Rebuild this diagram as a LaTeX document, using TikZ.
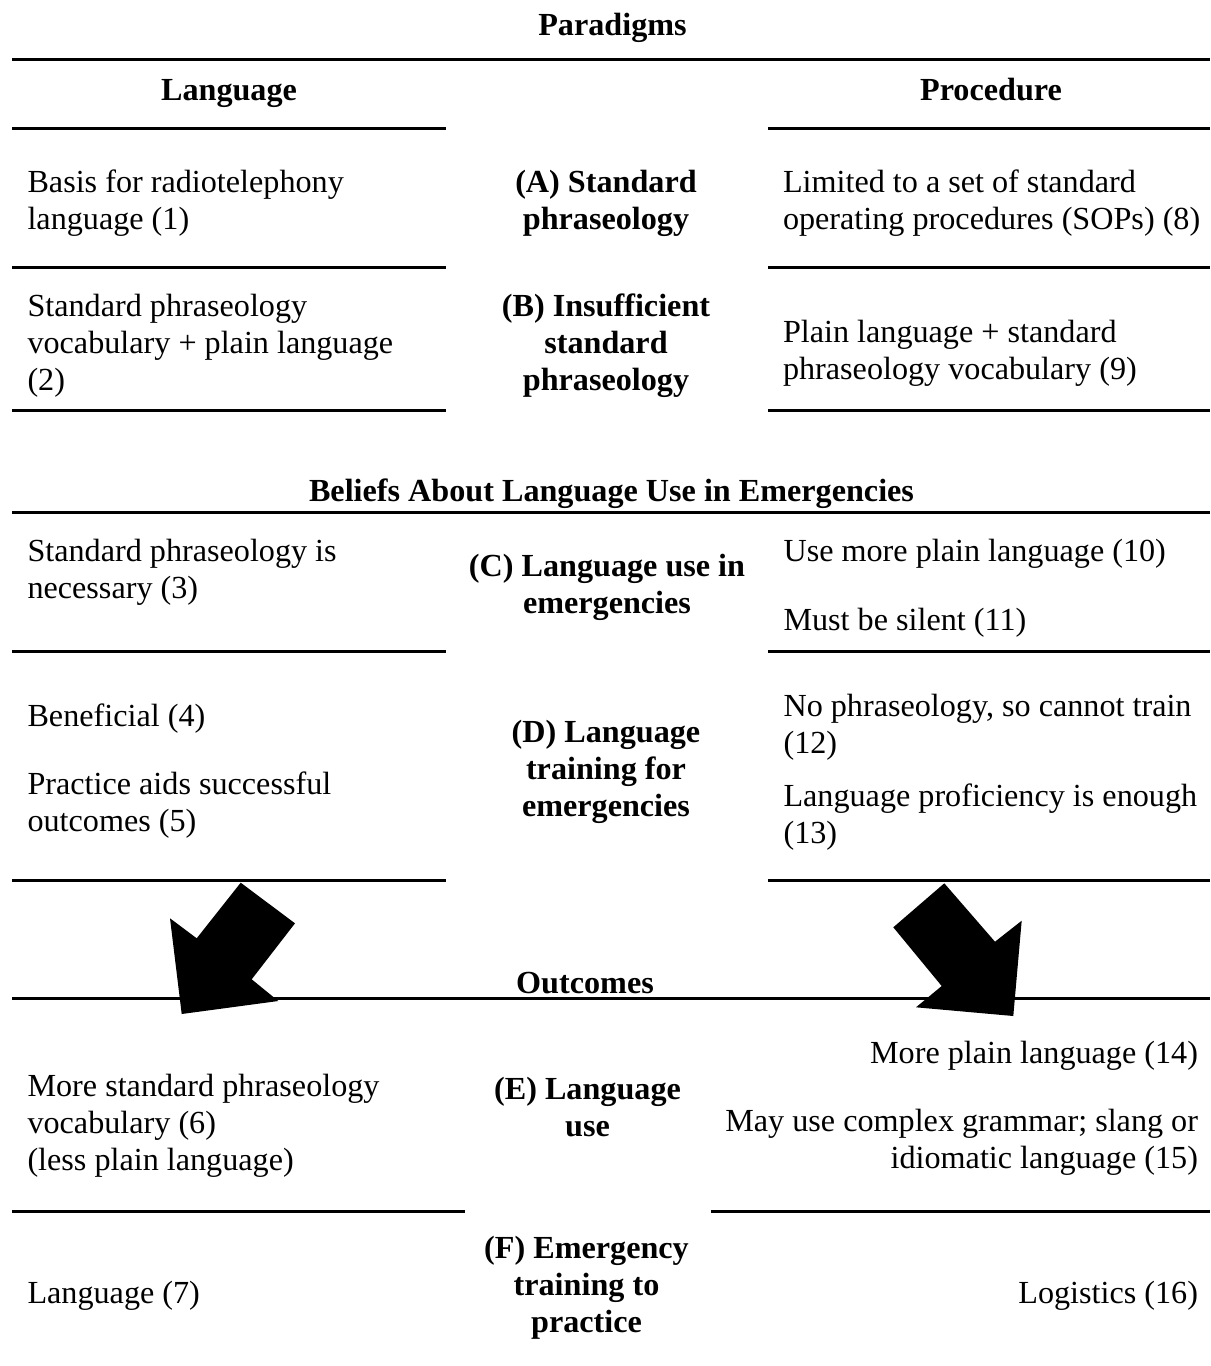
\documentclass[tikz,border=0pt]{standalone}
\usepackage{fontspec}
\setmainfont{Liberation Serif}
\usetikzlibrary{positioning}
\newcommand{\grundschrift}{\fontsize{12}{13.7}\selectfont}
\tikzset{
  zelle/.style={inner sep=0pt, font=\grundschrift, align=left, anchor=base west},
  zellerechts/.style={inner sep=0pt, font=\grundschrift, align=right, anchor=base east},
  thema/.style={inner sep=0pt, font=\grundschrift\bfseries, align=center, anchor=base},
  linie/.style={line width=1.12pt, color=black}
}

\begin{document}
\begin{tikzpicture}[x=0.373pt, y=-0.373pt]
        % Umgebung
        \useasboundingbox (0,0) rectangle (1210,1366);
        % Kopf - Paradigms
        \node[thema] (paradigms) at (612.5,35.5) {Paradigms};
        \draw[linie] (12,59) -- (1210,59);
        \node[thema] (sprache) at (229,100) {Language};
        \node[thema] (verfahren) at (991,100) {Procedure};
        \draw[linie] (12,128) -- (446,128);
        \draw[linie] (768,128) -- (1210,128);
        % Zeile A (Basislinie der letzten Zeile)
        \node[zelle] (z1) at (27,229.5) {Basis for radiotelephony\\language (1)};
        \node[thema] (a) at (606,229.5) {(A) Standard\\phraseology};
        \node[zelle] (z8) at (782.5,229.5) {Limited to a set of standard\\operating procedures (SOPs) (8)};
        \draw[linie] (12,267) -- (446,267);
        \draw[linie] (768,267) -- (1210,267);
        % Zeile B
        \node[zelle] (z2) at (27,390) {Standard phraseology\\vocabulary + plain language\\(2)};
        \node[thema] (b) at (606,390) {(B) Insufficient\\standard\\phraseology};
        \node[zelle] (z9) at (782.5,379) {Plain language + standard\\phraseology vocabulary (9)};
        \draw[linie] (12,410.5) -- (446,410.5);
        \draw[linie] (768,410.5) -- (1210,410.5);
        % Kopf - Beliefs
        \node[thema] (beliefs) at (611.5,501) {Beliefs About Language Use in Emergencies};
        \draw[linie] (12,512.5) -- (1210,512.5);
        % Zeile C
        \node[zelle] (z3) at (27,598) {Standard phraseology is\\necessary (3)};
        \node[thema] (c) at (607,613.5) {(C) Language use in\\emergencies};
        \node[zelle] (z10) at (783,561) {Use more plain language (10)};
        \node[zelle] (z11) at (783,630) {Must be silent (11)};
        \draw[linie] (12,651.5) -- (446,651.5);
        \draw[linie] (768,651.5) -- (1210,651.5);
        % Zeile D
        \node[zelle] (z4) at (27,726) {Beneficial (4)};
        \node[zelle] (z5) at (27,831) {Practice aids successful\\outcomes (5)};
        \node[thema] (d) at (606,816) {(D) Language\\training for\\emergencies};
        \node[zelle] (z12) at (783,753.5) {No phraseology, so cannot train\\(12)};
        \node[zelle] (z13) at (783,843.5) {Language proficiency is enough\\(13)};
        \draw[linie] (12,880) -- (446,880);
        \draw[linie] (768,880) -- (1210,880);
        % Kopf - Outcomes
        \node[thema] (outcomes) at (585,993.5) {Outcomes};
        \draw[linie] (12,998) -- (1210,998);
        % Blockpfeile
        \fill[black] (240.7,882.7) -- (295,923.3) -- (251.7,979.3) -- (278.3,1001) -- (181.7,1014) -- (170,918.3) -- (196.7,938.3) -- cycle;
        \fill[black] (944.3,883.3) -- (893.3,927.3) -- (941.7,986) -- (916,1007.3) -- (1013.3,1016) -- (1021.7,920.7) -- (995,941.7) -- cycle;
        % Zeile E
        \node[zelle] (z6) at (27,1170) {More standard phraseology\\vocabulary (6)\\(less plain language)};
        \node[thema] (e) at (587.5,1136) {(E) Language\\use};
        \node[zellerechts] (z14) at (1198.5,1063.7) {More plain language (14)};
        \node[zellerechts] (z15) at (1198.5,1168) {May use complex grammar; slang or\\idiomatic language (15)};
        \draw[linie] (12,1211.7) -- (465,1211.7);
        \draw[linie] (711,1211.7) -- (1210,1211.7);
        % Zeile F
        \node[zelle] (z7) at (27,1303.7) {Language (7)};
        \node[thema] (f) at (586.5,1332) {(F) Emergency\\training to\\practice};
        \node[zellerechts] (z16) at (1198.5,1303.7) {Logistics (16)};
    \end{tikzpicture}
\end{document}
